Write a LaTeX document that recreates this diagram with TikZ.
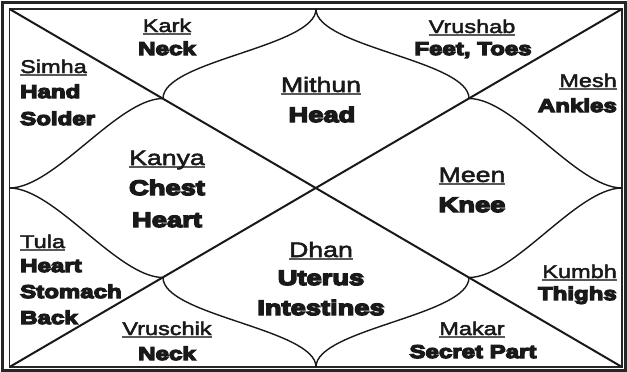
\documentclass[tikz,border=0pt]{standalone}
\usepackage{fontspec}
\setmainfont{Liberation Sans}[FakeStretch=1.27, FakeBold=2.5]
\newfontfamily\partfont{Liberation Sans}[FakeStretch=1.3, FakeBold=7]
\newcommand\undl[1]{\setbox0=\hbox{#1}\rlap{\color{black!65}\rule[-2.6pt]{\wd0}{1.3pt}}\box0}
\begin{document}
\begin{tikzpicture}[x=1pt,y=-1pt,
  sgn/.style={font=\fontsize{18.5}{22}\selectfont, text=black!90, inner sep=0pt, anchor=base},
  prt/.style={font=\partfont\fontsize{18.5}{22}\selectfont\bfseries, text=black!90, inner sep=0pt, anchor=base},
  bsgn/.style={font=\fontsize{21}{25}\selectfont, text=black!90, inner sep=0pt, anchor=base},
  bprt/.style={font=\partfont\fontsize{21}{25}\selectfont\bfseries, text=black!90, inner sep=0pt, anchor=base},
  diag/.style={line width=2pt, black!90},
  curv/.style={line width=1.4pt, black!90}]
\useasboundingbox (0,0) rectangle (627,372);
\fill[white] (0,0) rectangle (627,372);
% frame
\draw[line width=3pt, black!85] (2.5,2.5) rectangle (625.5,370.5);
\draw[line width=1.6pt, black!85] (9.5,9) rectangle (622,367);
% corner, mid and crossing points
\coordinate (TL) at (9.5,9);
\coordinate (TR) at (622,9);
\coordinate (BL) at (9.5,367);
\coordinate (BR) at (622,367);
\coordinate (T) at (316,9);
\coordinate (B) at (316,367);
\coordinate (L) at (9.5,188);
\coordinate (R) at (622,188);
\coordinate (QTL) at (163,98.5);
\coordinate (QTR) at (469,98.5);
\coordinate (QBL) at (163,277.5);
\coordinate (QBR) at (469,277.5);
% diagonals
\draw[diag] (TL) -- (BR);
\draw[diag] (TR) -- (BL);
% curved diamond
\draw[curv] (T) .. controls +(0,38) and +(0,-38) .. (QTL);
\draw[curv] (L) .. controls +(45,0) and +(-45,0) .. (QTL);
\draw[curv] (T) .. controls +(0,38) and +(0,-38) .. (QTR);
\draw[curv] (R) .. controls +(-45,0) and +(45,0) .. (QTR);
\draw[curv] (B) .. controls +(0,-38) and +(0,38) .. (QBL);
\draw[curv] (L) .. controls +(45,0) and +(-45,0) .. (QBL);
\draw[curv] (B) .. controls +(0,-38) and +(0,38) .. (QBR);
\draw[curv] (R) .. controls +(-45,0) and +(45,0) .. (QBR);
% texts
\node[sgn] (kark) at (167,32) {\undl{Kark}};
\node[prt] (neckA) at (167,55) {Neck};
\node[sgn, anchor=base west] (simha) at (20,73) {\undl{Simha}};
\node[prt, anchor=base west] (hand) at (20,98) {Hand};
\node[prt, anchor=base west] (solder) at (20,125) {Solder};
\node[bsgn] (mithun) at (321,92) {\undl{Mithun}};
\node[bprt] (head) at (322,122) {Head};
\node[bsgn] (kanya) at (167,165) {\undl{Kanya}};
\node[bprt] (chest) at (167,195) {Chest};
\node[bprt] (heartA) at (167,227) {Heart};
\node[sgn] (vrushab) at (472,33) {\undl{Vrushab}};
\node[prt] (feet) at (473,55) {Feet, Toes};
\node[sgn, anchor=base east] (mesh) at (617,87) {\undl{Mesh}};
\node[prt, anchor=base east] (ankles) at (617,112) {Ankles};
\node[bsgn] (meen) at (472,182) {\undl{Meen}};
\node[bprt] (knee) at (472,212) {Knee};
\node[sgn, anchor=base west] (tula) at (20,248) {\undl{Tula}};
\node[prt, anchor=base west] (heartB) at (20,272) {Heart};
\node[prt, anchor=base west] (stomach) at (20,298) {Stomach};
\node[prt, anchor=base west] (back) at (20,324) {Back};
\node[sgn] (vruschik) at (167,335) {\undl{Vruschik}};
\node[prt] (neckB) at (167,360) {Neck};
\node[bsgn] (dhan) at (321,257) {\undl{Dhan}};
\node[bprt] (uterus) at (321,285) {Uterus};
\node[bprt] (intestines) at (321,315) {Intestines};
\node[sgn, anchor=base east] (kumbh) at (617,278) {\undl{Kumbh}};
\node[prt, anchor=base east] (thighs) at (617,300) {Thighs};
\node[sgn] (makar) at (472,335) {\undl{Makar}};
\node[prt] (secret) at (473,358) {Secret Part};
\end{tikzpicture}
\end{document}
